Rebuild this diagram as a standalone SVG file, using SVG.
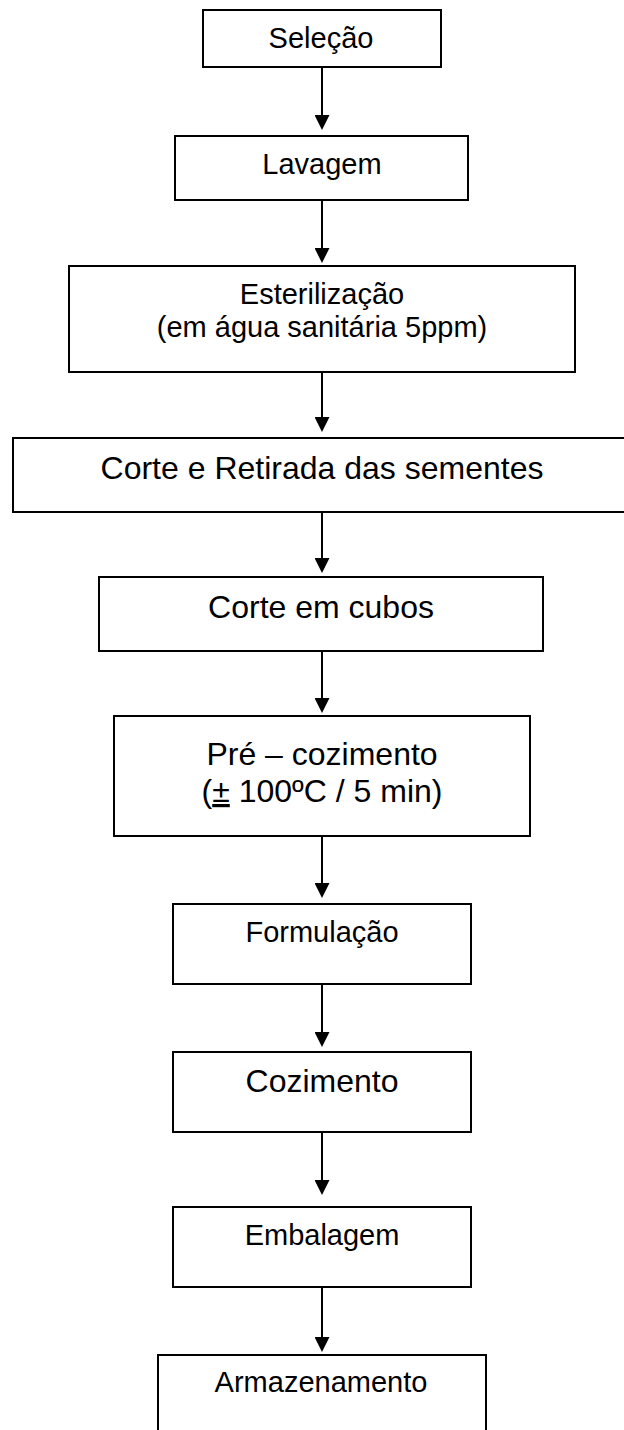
<svg xmlns="http://www.w3.org/2000/svg" width="624" height="1430" viewBox="0 0 624 1430">
<style>
.box{fill:#fff;stroke:#000;stroke-width:2}
.t{font-family:"Liberation Sans",Arial,sans-serif;fill:#000;text-anchor:middle}
.s{font-size:29px}
.l{font-size:32px}
.c{stroke:#000;stroke-width:2;fill:none;marker-end:url(#ah)}
</style>
<defs>
<marker id="ah" viewBox="0 0 15 15" refX="1" refY="7.5" markerWidth="15" markerHeight="15" markerUnits="userSpaceOnUse" orient="auto">
<path d="M0,0 L15,7.5 L0,15 z" fill="#000"/>
</marker>
</defs>
<rect width="624" height="1430" fill="#fff"/>
<g id="connectors">
<line class="c" x1="322" y1="67" x2="322" y2="116"/>
<line class="c" x1="322" y1="200" x2="322" y2="249"/>
<line class="c" x1="322" y1="372" x2="322" y2="418"/>
<line class="c" x1="322" y1="512" x2="322" y2="559"/>
<line class="c" x1="322" y1="651" x2="322" y2="699"/>
<line class="c" x1="322" y1="836" x2="322" y2="884"/>
<line class="c" x1="322" y1="984" x2="322" y2="1033"/>
<line class="c" x1="322" y1="1132" x2="322" y2="1181"/>
<line class="c" x1="322" y1="1287" x2="322" y2="1338"/>
</g>
<g id="selecao">
<rect class="box" x="203" y="10" width="238" height="57"/>
<text class="t s" x="321" y="48">Seleção</text>
</g>
<g id="lavagem">
<rect class="box" x="175" y="136" width="293" height="64"/>
<text class="t s" x="322" y="174">Lavagem</text>
</g>
<g id="esterilizacao">
<rect class="box" x="69" y="266" width="506" height="106"/>
<text class="t s" x="322" y="304">Esterilização</text>
<text class="t s" x="322" y="337">(em água sanitária 5ppm)</text>
</g>
<g id="corte-retirada">
<rect class="box" x="13" y="438" width="620" height="74"/>
<text class="t l" x="322" y="479">Corte e Retirada das sementes</text>
</g>
<g id="corte-cubos">
<rect class="box" x="99" y="577" width="444" height="74"/>
<text class="t l" x="321" y="618">Corte em cubos</text>
</g>
<g id="pre-cozimento">
<rect class="box" x="114" y="716" width="416" height="120"/>
<text class="t l" x="322" y="765">Pré – cozimento</text>
<text class="t l" x="322" y="802">(<tspan text-decoration="underline">±</tspan> 100ºC / 5 min)</text>
</g>
<g id="formulacao">
<rect class="box" x="173" y="904" width="298" height="80"/>
<text class="t s" x="322" y="942">Formulação</text>
</g>
<g id="cozimento">
<rect class="box" x="173" y="1052" width="298" height="80"/>
<text class="t l" x="322" y="1092">Cozimento</text>
</g>
<g id="embalagem">
<rect class="box" x="173" y="1207" width="298" height="80"/>
<text class="t s" x="322" y="1245">Embalagem</text>
</g>
<g id="armazenamento">
<rect class="box" x="158" y="1355" width="328" height="90"/>
<text class="t s" x="321" y="1392">Armazenamento</text>
</g>
</svg>
